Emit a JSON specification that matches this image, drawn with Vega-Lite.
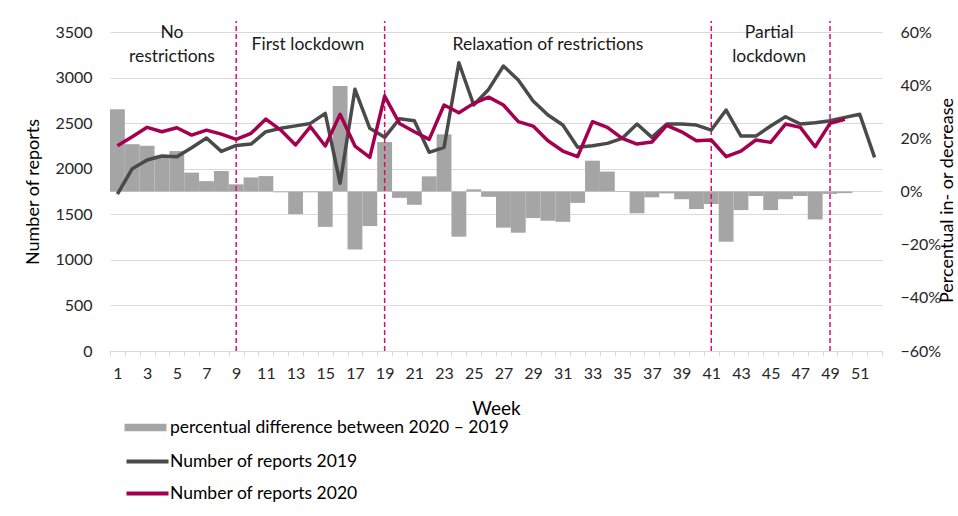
{
  "$schema": "https://vega.github.io/schema/vega-lite/v6.json",
  "width": 772,
  "height": 319,
  "autosize": {"type": "none"},
  "padding": {"left": 110, "top": 32, "right": 76, "bottom": 165},
  "background": "#ffffff",
  "config": {
    "font": "Lato",
    "view": {"stroke": null},
    "axis": {"labelFont": "Lato", "titleFont": "Lato", "labelColor": "#262626", "titleColor": "#000000", "labelFontSize": 16, "titleFontSize": 19, "titleFontWeight": "normal"},
    "legend": {"labelFont": "Lato", "labelFontSize": 17.5, "labelColor": "#000000", "labelLimit": 0}
  },
  "datasets": {
    "pct": [
      {"week": 1, "pct": 0.309}, {"week": 2, "pct": 0.178}, {"week": 3, "pct": 0.172}, {"week": 4, "pct": 0.135},
      {"week": 5, "pct": 0.152}, {"week": 6, "pct": 0.071}, {"week": 7, "pct": 0.039}, {"week": 8, "pct": 0.077},
      {"week": 9, "pct": 0.027}, {"week": 10, "pct": 0.053}, {"week": 11, "pct": 0.058}, {"week": 12, "pct": -0.003},
      {"week": 13, "pct": -0.085}, {"week": 14, "pct": -0.003}, {"week": 15, "pct": -0.133}, {"week": 16, "pct": 0.397},
      {"week": 17, "pct": -0.218}, {"week": 18, "pct": -0.13}, {"week": 19, "pct": 0.186}, {"week": 20, "pct": -0.024},
      {"week": 21, "pct": -0.05}, {"week": 22, "pct": 0.057}, {"week": 23, "pct": 0.215}, {"week": 24, "pct": -0.17},
      {"week": 25, "pct": 0.008}, {"week": 26, "pct": -0.02}, {"week": 27, "pct": -0.136}, {"week": 28, "pct": -0.155},
      {"week": 29, "pct": -0.1}, {"week": 30, "pct": -0.11}, {"week": 31, "pct": -0.114}, {"week": 32, "pct": -0.043},
      {"week": 33, "pct": 0.116}, {"week": 34, "pct": 0.075}, {"week": 35, "pct": -0.002}, {"week": 36, "pct": -0.082},
      {"week": 37, "pct": -0.022}, {"week": 38, "pct": -0.007}, {"week": 39, "pct": -0.029}, {"week": 40, "pct": -0.066},
      {"week": 41, "pct": -0.047}, {"week": 42, "pct": -0.189}, {"week": 43, "pct": -0.07}, {"week": 44, "pct": -0.017},
      {"week": 45, "pct": -0.07}, {"week": 46, "pct": -0.029}, {"week": 47, "pct": -0.017}, {"week": 48, "pct": -0.105},
      {"week": 49, "pct": -0.009}, {"week": 50, "pct": -0.006}
    ],
    "reports": [
      {"week": 1, "series": "Number of reports 2019", "count": 1720},
      {"week": 2, "series": "Number of reports 2019", "count": 2000},
      {"week": 3, "series": "Number of reports 2019", "count": 2095},
      {"week": 4, "series": "Number of reports 2019", "count": 2140},
      {"week": 5, "series": "Number of reports 2019", "count": 2130},
      {"week": 6, "series": "Number of reports 2019", "count": 2230},
      {"week": 7, "series": "Number of reports 2019", "count": 2337},
      {"week": 8, "series": "Number of reports 2019", "count": 2190},
      {"week": 9, "series": "Number of reports 2019", "count": 2256},
      {"week": 10, "series": "Number of reports 2019", "count": 2270},
      {"week": 11, "series": "Number of reports 2019", "count": 2406},
      {"week": 12, "series": "Number of reports 2019", "count": 2443},
      {"week": 13, "series": "Number of reports 2019", "count": 2470},
      {"week": 14, "series": "Number of reports 2019", "count": 2497},
      {"week": 15, "series": "Number of reports 2019", "count": 2607},
      {"week": 16, "series": "Number of reports 2019", "count": 1840},
      {"week": 17, "series": "Number of reports 2019", "count": 2871},
      {"week": 18, "series": "Number of reports 2019", "count": 2443},
      {"week": 19, "series": "Number of reports 2019", "count": 2344},
      {"week": 20, "series": "Number of reports 2019", "count": 2548},
      {"week": 21, "series": "Number of reports 2019", "count": 2527},
      {"week": 22, "series": "Number of reports 2019", "count": 2180},
      {"week": 23, "series": "Number of reports 2019", "count": 2235},
      {"week": 24, "series": "Number of reports 2019", "count": 3163},
      {"week": 25, "series": "Number of reports 2019", "count": 2699},
      {"week": 26, "series": "Number of reports 2019", "count": 2870},
      {"week": 27, "series": "Number of reports 2019", "count": 3127},
      {"week": 28, "series": "Number of reports 2019", "count": 2973},
      {"week": 29, "series": "Number of reports 2019", "count": 2743},
      {"week": 30, "series": "Number of reports 2019", "count": 2589},
      {"week": 31, "series": "Number of reports 2019", "count": 2479},
      {"week": 32, "series": "Number of reports 2019", "count": 2235},
      {"week": 33, "series": "Number of reports 2019", "count": 2252},
      {"week": 34, "series": "Number of reports 2019", "count": 2278},
      {"week": 35, "series": "Number of reports 2019", "count": 2333},
      {"week": 36, "series": "Number of reports 2019", "count": 2490},
      {"week": 37, "series": "Number of reports 2019", "count": 2344},
      {"week": 38, "series": "Number of reports 2019", "count": 2490},
      {"week": 39, "series": "Number of reports 2019", "count": 2490},
      {"week": 40, "series": "Number of reports 2019", "count": 2479},
      {"week": 41, "series": "Number of reports 2019", "count": 2424},
      {"week": 42, "series": "Number of reports 2019", "count": 2644},
      {"week": 43, "series": "Number of reports 2019", "count": 2358},
      {"week": 44, "series": "Number of reports 2019", "count": 2358},
      {"week": 45, "series": "Number of reports 2019", "count": 2468},
      {"week": 46, "series": "Number of reports 2019", "count": 2570},
      {"week": 47, "series": "Number of reports 2019", "count": 2490},
      {"week": 48, "series": "Number of reports 2019", "count": 2505},
      {"week": 49, "series": "Number of reports 2019", "count": 2527},
      {"week": 50, "series": "Number of reports 2019", "count": 2563},
      {"week": 51, "series": "Number of reports 2019", "count": 2597},
      {"week": 52, "series": "Number of reports 2019", "count": 2125},
      {"week": 1, "series": "Number of reports 2020", "count": 2252},
      {"week": 2, "series": "Number of reports 2020", "count": 2351},
      {"week": 3, "series": "Number of reports 2020", "count": 2454},
      {"week": 4, "series": "Number of reports 2020", "count": 2406},
      {"week": 5, "series": "Number of reports 2020", "count": 2450},
      {"week": 6, "series": "Number of reports 2020", "count": 2369},
      {"week": 7, "series": "Number of reports 2020", "count": 2424},
      {"week": 8, "series": "Number of reports 2020", "count": 2380},
      {"week": 9, "series": "Number of reports 2020", "count": 2322},
      {"week": 10, "series": "Number of reports 2020", "count": 2388},
      {"week": 11, "series": "Number of reports 2020", "count": 2545},
      {"week": 12, "series": "Number of reports 2020", "count": 2424},
      {"week": 13, "series": "Number of reports 2020", "count": 2260},
      {"week": 14, "series": "Number of reports 2020", "count": 2461},
      {"week": 15, "series": "Number of reports 2020", "count": 2249},
      {"week": 16, "series": "Number of reports 2020", "count": 2597},
      {"week": 17, "series": "Number of reports 2020", "count": 2249},
      {"week": 18, "series": "Number of reports 2020", "count": 2125},
      {"week": 19, "series": "Number of reports 2020", "count": 2797},
      {"week": 20, "series": "Number of reports 2020", "count": 2497},
      {"week": 21, "series": "Number of reports 2020", "count": 2406},
      {"week": 22, "series": "Number of reports 2020", "count": 2322},
      {"week": 23, "series": "Number of reports 2020", "count": 2699},
      {"week": 24, "series": "Number of reports 2020", "count": 2614},
      {"week": 25, "series": "Number of reports 2020", "count": 2717},
      {"week": 26, "series": "Number of reports 2020", "count": 2785},
      {"week": 27, "series": "Number of reports 2020", "count": 2699},
      {"week": 28, "series": "Number of reports 2020", "count": 2516},
      {"week": 29, "series": "Number of reports 2020", "count": 2468},
      {"week": 30, "series": "Number of reports 2020", "count": 2307},
      {"week": 31, "series": "Number of reports 2020", "count": 2194},
      {"week": 32, "series": "Number of reports 2020", "count": 2132},
      {"week": 33, "series": "Number of reports 2020", "count": 2516},
      {"week": 34, "series": "Number of reports 2020", "count": 2454},
      {"week": 35, "series": "Number of reports 2020", "count": 2333},
      {"week": 36, "series": "Number of reports 2020", "count": 2271},
      {"week": 37, "series": "Number of reports 2020", "count": 2293},
      {"week": 38, "series": "Number of reports 2020", "count": 2476},
      {"week": 39, "series": "Number of reports 2020", "count": 2405},
      {"week": 40, "series": "Number of reports 2020", "count": 2307},
      {"week": 41, "series": "Number of reports 2020", "count": 2315},
      {"week": 42, "series": "Number of reports 2020", "count": 2132},
      {"week": 43, "series": "Number of reports 2020", "count": 2194},
      {"week": 44, "series": "Number of reports 2020", "count": 2315},
      {"week": 45, "series": "Number of reports 2020", "count": 2289},
      {"week": 46, "series": "Number of reports 2020", "count": 2490},
      {"week": 47, "series": "Number of reports 2020", "count": 2454},
      {"week": 48, "series": "Number of reports 2020", "count": 2241},
      {"week": 49, "series": "Number of reports 2020", "count": 2497},
      {"week": 50, "series": "Number of reports 2020", "count": 2542}
    ],
    "phases": [
      {"label": ["No", "restrictions"], "pos": 4.67, "level": 3488},
      {"label": ["First lockdown"], "pos": 13.83, "level": 3357},
      {"label": ["Relaxation of restrictions"], "pos": 30.0, "level": 3357},
      {"label": ["Partial", "lockdown"], "pos": 44.9, "level": 3488}
    ],
    "breaks": [{"week": 9}, {"week": 19}, {"week": 41}, {"week": 49}]
  },
  "resolve": {"scale": {"x": "independent", "y": "independent", "fill": "independent", "stroke": "independent"}},
  "layer": [
    {
      "data": {"values": [{"z": 0}]},
      "mark": {"type": "rule", "color": "#d9d9d9", "strokeWidth": 1},
      "encoding": {
        "y": {"field": "z", "type": "quantitative", "scale": {"domain": [-0.6, 0.6], "nice": false, "zero": false}, "axis": null}
      }
    },
    {
      "data": {"name": "pct"},
      "mark": {"type": "bar"},
      "encoding": {
        "x": {"field": "week", "type": "ordinal", "scale": {"domain": [1,2,3,4,5,6,7,8,9,10,11,12,13,14,15,16,17,18,19,20,21,22,23,24,25,26,27,28,29,30,31,32,33,34,35,36,37,38,39,40,41,42,43,44,45,46,47,48,49,50,51,52], "paddingInner": 0, "paddingOuter": 0},
          "axis": {"title": "Week", "titleFontSize": 19, "labelAngle": 0, "labelExpr": "datum.value % 2 == 1 ? datum.label : ''", "tickBand": "extent", "tickSize": 5, "tickColor": "#d9d9d9", "domainColor": "#d9d9d9", "labelPadding": 9, "titlePadding": 18, "grid": false}},
        "y": {"field": "pct", "type": "quantitative", "scale": {"domain": [-0.6, 0.6], "nice": false},
          "axis": {"orient": "right", "values": [-0.6, -0.4, -0.2, 0, 0.2, 0.4, 0.6], "format": ".0%", "grid": false, "domain": false, "ticks": false, "labelPadding": 18, "title": "Percentual in- or decrease", "titleAngle": -90, "titleFontSize": 18, "titleX": 70, "titleY": 168, "titleAlign": "center", "titleBaseline": "alphabetic"}},
        "fill": {"datum": "percentual difference between 2020 – 2019", "type": "nominal", "scale": {"range": ["#a5a5a5"]},
          "legend": {"orient": "none", "legendX": 25, "legendY": 385, "title": null, "padding": 0, "symbolType": "M-2,-0.35H2V0.35H-2Z", "symbolSize": 441, "symbolStrokeWidth": 0, "labelOffset": 14}}
      }
    },
    {
      "data": {"name": "breaks"},
      "mark": {"type": "rule", "color": "#d6106e", "strokeWidth": 1.5, "strokeDash": [5, 3]},
      "encoding": {
        "x": {"field": "week", "type": "quantitative", "scale": {"domain": [0.5, 52.5], "nice": false, "zero": false}, "axis": null},
        "y": {"datum": 0, "type": "quantitative", "scale": {"domain": [0, 3500], "nice": false}, "axis": null},
        "y2": {"datum": 3620}
      }
    },
    {
      "data": {"name": "reports"},
      "mark": {"type": "line", "strokeWidth": 3.5, "strokeJoin": "round"},
      "encoding": {
        "x": {"field": "week", "type": "ordinal", "scale": {"domain": [1,2,3,4,5,6,7,8,9,10,11,12,13,14,15,16,17,18,19,20,21,22,23,24,25,26,27,28,29,30,31,32,33,34,35,36,37,38,39,40,41,42,43,44,45,46,47,48,49,50,51,52], "paddingInner": 0, "paddingOuter": 0}, "axis": null},
        "y": {"field": "count", "type": "quantitative", "scale": {"domain": [0, 3500], "nice": false},
          "axis": {"values": [0, 500, 1000, 1500, 2000, 2500, 3000, 3500], "format": "d", "grid": true, "gridColor": "#d9d9d9", "domain": false, "ticks": false, "labelPadding": 18, "title": "Number of reports", "titleFontSize": 18, "titlePadding": 12}},
        "stroke": {"field": "series", "type": "nominal", "scale": {"domain": ["Number of reports 2019", "Number of reports 2020"], "range": ["#4a4a4a", "#a50050"]},
          "legend": {"orient": "none", "legendX": 25, "legendY": 417, "title": null, "padding": 0, "symbolType": "M-2,0H2", "symbolSize": 441, "symbolStrokeWidth": 4, "labelOffset": 10, "rowPadding": 11}}
      }
    },
    {
      "data": {"name": "phases"},
      "mark": {"type": "text", "fontSize": 17.5, "color": "#1a1a1a", "align": "center", "baseline": "middle", "lineHeight": 24},
      "encoding": {
        "x": {"field": "pos", "type": "quantitative", "scale": {"domain": [0.5, 52.5], "nice": false, "zero": false}, "axis": null},
        "y": {"field": "level", "type": "quantitative", "scale": {"domain": [0, 3500], "nice": false}, "axis": null},
        "text": {"field": "label"}
      }
    }
  ]
}
